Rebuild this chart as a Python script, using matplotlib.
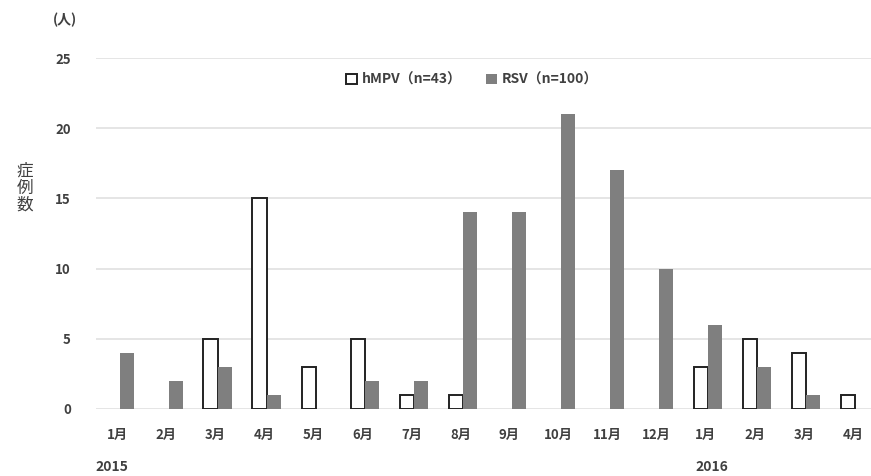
import numpy as np
import matplotlib.pyplot as plt
from matplotlib.patches import Patch

plt.rcParams['font.family'] = ['Noto Sans CJK JP', 'DejaVu Sans']

months = ['1月', '2月', '3月', '4月', '5月', '6月', '7月', '8月', '9月', '10月',
          '11月', '12月', '1月', '2月', '3月', '4月']
hmpv = [0, 0, 5, 15, 3, 5, 1, 1, 0, 0, 0, 0, 3, 5, 4, 1]
rsv = [4, 2, 3, 1, 0, 2, 2, 14, 14, 21, 17, 10, 6, 3, 1, 0]

txt = '#404040'
fig = plt.figure(figsize=(8.71, 4.76), dpi=100)
ax = fig.add_axes([96 / 871, 67 / 476, 1 - 96 / 871, (409 - 58) / 476])

x = np.arange(len(months))
w = 0.29
# empty months get no outline
lw = [1.4 if v > 0 else 0 for v in hmpv]
ax.bar(x - w / 2 + 0.05, hmpv, w, color='white', edgecolor='#222222', linewidth=lw, zorder=3)
ax.bar(x + w / 2 + 0.05, rsv, w, color='#7f7f7f', edgecolor='none', zorder=3)

ax.set_ylim(0, 25)
ax.set_xlim(-0.43, 15.37)
ax.set_yticks([0, 5, 10, 15, 20, 25])
ax.set_xticks(x)
ax.set_xticklabels(months)
ax.grid(axis='y', color='#e0e0e0', linewidth=1.2, zorder=0)
for s in ax.spines.values():
    s.set_visible(False)
ax.tick_params(length=0, colors=txt, labelsize=9.5)
ax.tick_params(axis='y', pad=18)
ax.tick_params(axis='x', pad=14)
for lab in ax.get_xticklabels() + ax.get_yticklabels():
    lab.set_fontweight('bold')

fig.text(65 / 871, 1 - 20 / 476, '(人)', ha='center', va='center', fontsize=10, color=txt, fontweight='bold')
fig.text(25 / 871, 1 - 188 / 476, '症\n例\n数', ha='center', va='center', fontsize=12,
         color=txt, linespacing=1.0)
fig.text(112 / 871, 1 - 467 / 476, '2015', ha='center', va='center', fontsize=10, color=txt, fontweight='bold')
fig.text(712 / 871, 1 - 467 / 476, '2016', ha='center', va='center', fontsize=10, color=txt, fontweight='bold')

handles = [Patch(facecolor='white', edgecolor='#222222', linewidth=1.4),
           Patch(facecolor='#7f7f7f', edgecolor='none')]
leg = fig.legend(handles, ['hMPV（n=43）', 'RSV（n=100）'], loc='center',
                 bbox_to_anchor=(472 / 871, 1 - 80 / 476), ncol=2, frameon=False,
                 handlelength=0.8, handleheight=0.8, handletextpad=0.3, columnspacing=1.8,
                 prop={'size': 10, 'weight': 'bold'})
for t in leg.get_texts():
    t.set_color(txt)

fig.savefig('out.png', dpi=100)
